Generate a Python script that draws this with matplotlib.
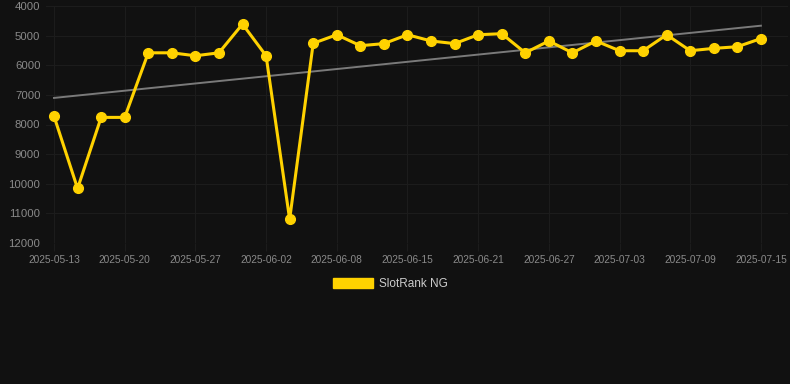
import matplotlib
matplotlib.use("Agg")
import matplotlib.pyplot as plt
import numpy as np
from matplotlib.patches import Patch

# Daily rank snapshots (lower = better, axis is inverted)
dates = [
    "2025-05-13", "2025-05-15", "2025-05-18", "2025-05-20", "2025-05-22",
    "2025-05-25", "2025-05-27", "2025-05-29", "2025-05-31", "2025-06-02",
    "2025-06-04", "2025-06-06", "2025-06-08", "2025-06-10", "2025-06-13",
    "2025-06-15", "2025-06-17", "2025-06-19", "2025-06-21", "2025-06-23",
    "2025-06-25", "2025-06-27", "2025-06-29", "2025-07-01", "2025-07-03",
    "2025-07-05", "2025-07-07", "2025-07-09", "2025-07-11", "2025-07-13",
    "2025-07-15",
]
ranks = [
    7720, 10160, 7760, 7760, 5580, 5580, 5680, 5580, 4610, 5680,
    11200, 5260, 4970, 5340, 5270, 4970, 5180, 5270, 4970, 4935,
    5580, 5180, 5580, 5180, 5510, 5510, 4970, 5510, 5430, 5375,
    5100,
]
y_ticks = [4000, 5000, 6000, 7000, 8000, 9000, 10000, 11000, 12000]
series_name = "SlotRank NG"

BG = "#111111"
GOLD = "#ffd200"
GRID = "#1c1c1c"
TXT = "#8a8a8a"

plt.rcParams["font.family"] = ["Liberation Sans", "DejaVu Sans"]

fig = plt.figure(figsize=(7.9, 3.84), dpi=100, facecolor=BG)
ax = fig.add_axes([46 / 790, 1 - 243 / 384, (788 - 46) / 790, (243 - 6) / 384])
ax.set_facecolor(BG)

x = np.arange(len(ranks))

# linear trend over the whole window
coef = np.polyfit(x, ranks, 1)
ax.plot(x, np.polyval(coef, x), color="#7a7a7a", lw=1.4, zorder=2)

ax.plot(x, ranks, color=GOLD, lw=2.2, marker="o", ms=7, mfc=GOLD, mec=GOLD,
        solid_joinstyle="miter", zorder=3)

ax.set_ylim(12000, 4000)
ax.set_yticks(y_ticks)
ax.set_yticklabels([str(t) for t in y_ticks])
ax.set_xlim(-0.34, 31.15)
ax.set_xticks(x[::3])
ax.set_xticklabels(dates[::3])

ax.grid(True, color=GRID, lw=0.8)
ax.set_axisbelow(True)
for s in ax.spines.values():
    s.set_visible(False)
ax.tick_params(axis="y", length=0, pad=4, labelsize=8.2, labelcolor=TXT)
ax.tick_params(axis="x", length=6, color=GRID, pad=2.5, labelsize=7.3, labelcolor=TXT)

handle = Patch(facecolor=GOLD, edgecolor=GOLD)
fig.legend([handle], [series_name], loc="center", bbox_to_anchor=(390 / 790, 1 - 284 / 384),
           frameon=False, fontsize=8.5, labelcolor="#cccccc",
           handlelength=3.4, handleheight=1.0, handletextpad=0.5)

fig.savefig("out.png", dpi=100, facecolor=BG)
